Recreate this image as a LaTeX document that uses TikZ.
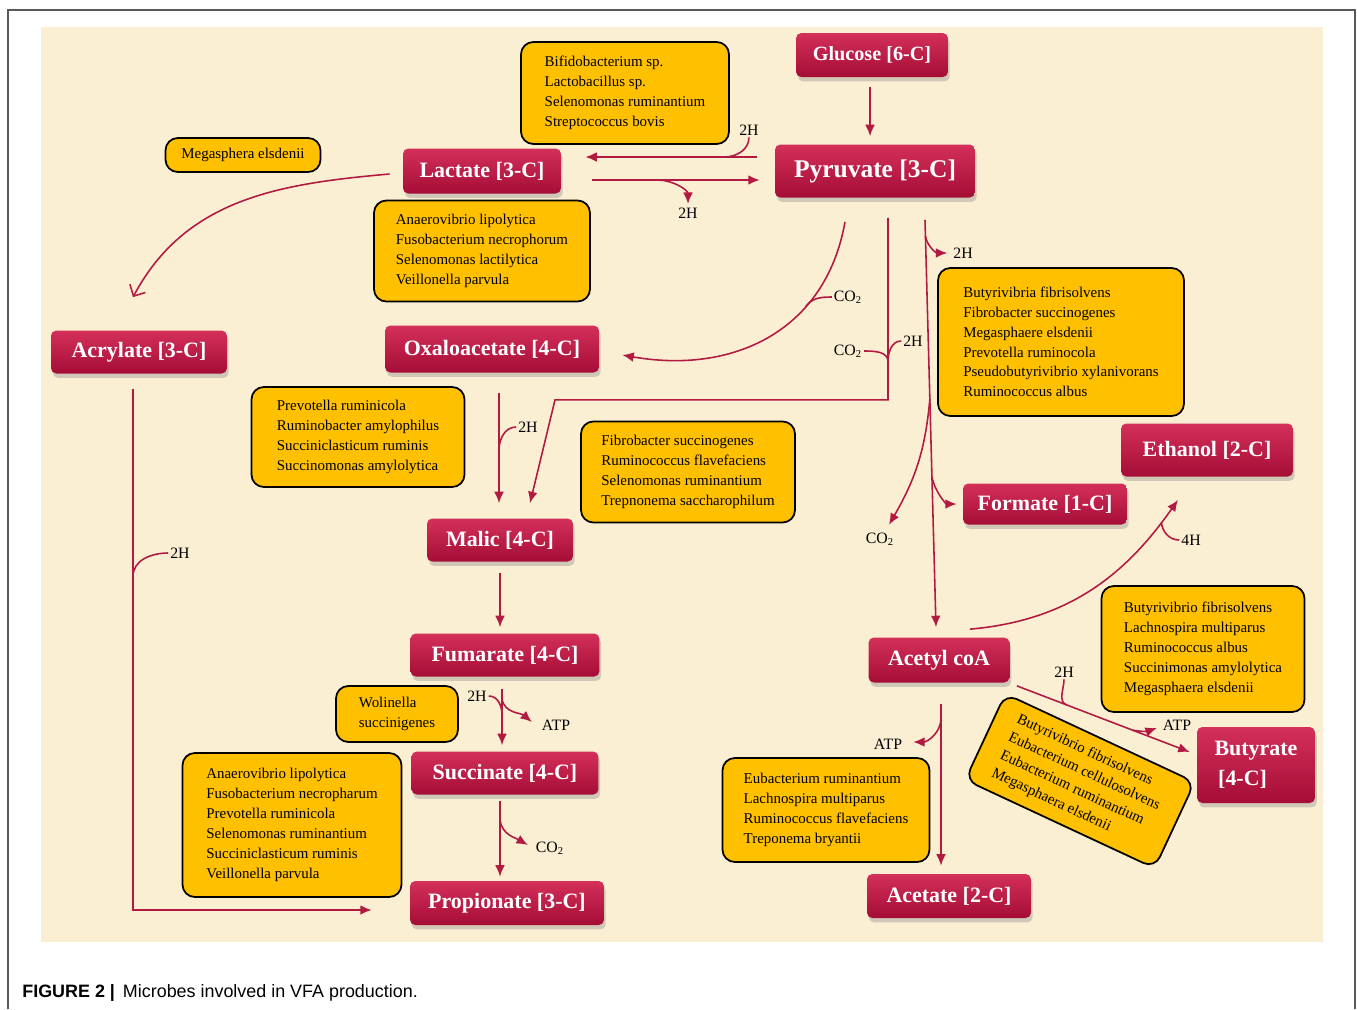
\documentclass[tikz,border=0pt]{standalone}
\usepackage{fontspec}
\setmainfont{Liberation Serif}
\newfontfamily\capfont{Liberation Sans}
\usetikzlibrary{arrows.meta}
\usetikzlibrary{calc}
\usetikzlibrary{shadows}

\definecolor{parchment}{HTML}{FBEFD3}
\definecolor{wine}{HTML}{B31A42}
\definecolor{winetop}{HTML}{D3305A}
\definecolor{winebot}{HTML}{A50D36}
\definecolor{amber}{HTML}{FFC000}

\begin{document}
\begin{tikzpicture}[x=0.02cm, y=0.02cm]
\tikzset{metab/.style = {rounded corners=3pt, top color=winetop, bottom color=winebot, text=white, inner sep=0pt,
  font=\bfseries\fontsize{12.5}{15}\selectfont, drop shadow={opacity=.35, shadow xshift=1pt, shadow yshift=-2.5pt}}}
\tikzset{bugs/.style = {draw=black, line width=1pt, fill=amber, rounded corners=7pt, align=left, inner sep=0pt,
  font=\fontsize{8.5}{11.3}\selectfont}}
\tikzset{side/.style = {draw=wine, line width=.9pt}}
\tikzset{flow/.style = {side, -{Latex[length=6.5pt,width=5.5pt]}}}
\tikzset{tag/.style = {inner sep=1pt, font=\fontsize{9}{10}\selectfont}}

\useasboundingbox (0,0) rectangle (1357,-1009);
\fill[white] (0,0) rectangle (1357,-1009);
\fill[parchment] (41,-27) rectangle (1323,-942);
\draw[gray!70!black, line width=.8pt] (8,-1009) -- (8,-10) -- (1355,-10) -- (1355,-1009);

% metabolites
\node[metab, minimum width=3.04cm, minimum height=.88cm, font=\bfseries\fontsize{11.5}{14}\selectfont] (glucose) at (872,-55) {Glucose [6-C]};
\node[metab, minimum width=4cm, minimum height=1.06cm, font=\bfseries\fontsize{14.5}{17}\selectfont] (pyruvate) at (875,-171) {Pyruvate [3-C]};
\node[metab, minimum width=3.16cm, minimum height=.9cm] (lactate) at (482,-171) {Lactate [3-C]};
\node[metab, minimum width=3.52cm, minimum height=.86cm] (acrylate) at (139,-352) {Acrylate [3-C]};
\node[metab, minimum width=4.28cm, minimum height=.94cm] (oxalo) at (492,-349) {Oxaloacetate [4-C]};
\node[metab, minimum width=2.92cm, minimum height=.86cm] (malic) at (500,-540) {Malic [4-C]};
\node[metab, minimum width=3.78cm, minimum height=.86cm] (fumarate) at (505,-655) {Fumarate [4-C]};
\node[metab, minimum width=3.74cm, minimum height=.86cm] (succinate) at (505,-773) {Succinate [4-C]};
\node[metab, minimum width=3.88cm, minimum height=.88cm] (propionate) at (507,-903) {Propionate [3-C]};
\node[metab, minimum width=3.44cm, minimum height=1.06cm] (ethanol) at (1207,-450) {Ethanol [2-C]};
\node[metab, minimum width=3.28cm, minimum height=.82cm] (formate) at (1045,-504) {Formate [1-C]};
\node[metab, minimum width=2.82cm, minimum height=.9cm] (acetyl) at (939,-660) {Acetyl coA};
\node[metab, minimum width=3.28cm, minimum height=.88cm] (acetate) at (949,-896) {Acetate [2-C]};
\node[metab, minimum width=2.36cm, minimum height=1.52cm, align=left, font=\bfseries\fontsize{12.5}{17}\selectfont] (butyrate) at (1256,-765) {Butyrate\\ \,[4-C]};

% microbes
\node[bugs, minimum width=4.16cm, minimum height=2.04cm] (bifido) at (625,-93) {Bifidobacterium sp.\\Lactobacillus sp.\\Selenomonas ruminantium\\Streptococcus bovis};
\node[bugs, minimum width=3.1cm, minimum height=.68cm] (megas) at (243,-155) {Megasphera elsdenii};
\node[bugs, minimum width=4.32cm, minimum height=2.02cm] (lactbugs) at (482,-251) {Anaerovibrio lipolytica\\Fusobacterium necrophorum\\Selenomonas lactilytica\\Veillonella parvula};
\node[bugs, minimum width=4.92cm, minimum height=2.96cm] (pyrbugs) at (1061,-342) {Butyrivibria fibrisolvens\\Fibrobacter succinogenes\\Megasphaere elsdenii\\Prevotella ruminocola\\Pseudobutyrivibrio xylanivorans\\Ruminococcus albus};
\node[bugs, minimum width=4.26cm, minimum height=2cm] (oxabugs) at (358,-437) {Prevotella ruminicola\\Ruminobacter amylophilus\\Succiniclasticum ruminis\\Succinomonas amylolytica};
\node[bugs, minimum width=4.28cm, minimum height=2.02cm] (malbugs) at (688,-472) {Fibrobacter succinogenes\\Ruminococcus flavefaciens\\Selenomonas ruminantium\\Trepnonema saccharophilum};
\node[bugs, minimum width=2.44cm, minimum height=1.12cm] (wolin) at (397,-714) {Wolinella\\succinigenes};
\node[bugs, minimum width=4.38cm, minimum height=2.88cm] (propbugs) at (292,-825) {Anaerovibrio lipolytica\\Fusobacterium necropharum\\Prevotella ruminicola\\Selenomonas ruminantium\\Succiniclasticum ruminis\\Veillonella parvula};
\node[bugs, minimum width=4.06cm, minimum height=2.52cm] (ethbugs) at (1203,-649) {Butyrivibrio fibrisolvens\\Lachnospira multiparus\\Ruminococcus albus\\Succinimonas amylolytica\\Megasphaera elsdenii};
\node[bugs, minimum width=4.14cm, minimum height=2.08cm] (acebugs) at (826,-810) {Eubacterium ruminantium\\Lachnospira multiparus\\Ruminococcus flavefaciens\\Treponema bryantii};
\node[bugs, rotate=-25, minimum width=4.18cm, minimum height=1.9cm] (butbugs) at (1080,-781) {Butyrivibrio fibrisolvens\\Eubacterium cellulosolvens\\Eubacterium ruminantium\\Megasphaera elsdenii};

% side products
\node[tag] (h2a) at (749,-130) {2H};
\node[tag] (h2b) at (688,-213) {2H};
\node[tag] (h2c) at (180,-553) {2H};
\node[tag] (co2a) at (848,-297) {CO\textsubscript{2}};
\node[tag] (co2b) at (848,-351) {CO\textsubscript{2}};
\node[tag] (h2d) at (913,-341) {2H};
\node[tag] (h2e) at (528,-427) {2H};
\node[tag] (h2f) at (963,-253) {2H};
\node[tag] (co2c) at (880,-539) {CO\textsubscript{2}};
\node[tag] (h4) at (1191,-540) {4H};
\node[tag] (h2g) at (1064,-672) {2H};
\node[tag] (atpa) at (1177,-725) {ATP};
\node[tag] (atpb) at (888,-744) {ATP};
\node[tag] (h2h) at (477,-696) {2H};
\node[tag] (atpc) at (556,-725) {ATP};
\node[tag] (co2d) at (550,-848) {CO\textsubscript{2}};

\draw[flow] ($(glucose.south)+(-2,-10)$) -- ($(pyruvate.north)+(-5,8)$);

\draw[flow] ($(pyruvate.west)+(-18,14)$) -- coordinate[pos=.19] (j1) ($(lactate.east)+(24,14)$);
\draw[side] (h2a.south) to[out=-90,in=0] (j1);
\draw[flow] ($(lactate.east)+(31,-9)$) -- coordinate[pos=.39] (j2) ($(pyruvate.west)+(-15,-9)$);
\draw[flow, shorten >=1pt] (j2) to[out=0,in=90] (h2b.north);

\draw[side, -{Straight Barb[length=5pt,width=10pt]}] ($(lactate.west)+(-13,-3)$) to[out=185,in=62] ($(acrylate.north)+(-6,33)$);

\draw[flow] ($(acrylate.south)+(-6,-15)$) |- coordinate[pos=.18] (j3) ($(propionate.west)+(-38,-7)$);
\draw[side] (h2c.west) to[out=180,in=90] (j3);

\draw[flow] ($(pyruvate.south)+(-30,-24)$) to[out=-100,in=-10,looseness=1.1] coordinate[pos=.32] (j4) ($(oxalo.east)+(23,-6)$);
\draw[side] (co2a.west) to[out=180,in=55] (j4);

\draw[flow] ($(pyruvate.south)+(13,-20)$) -- coordinate[pos=.79] (j5) ++(0,-182) -- ++(-333,0) -- ($(malic.north)+(30,15)$);
\draw[side] (co2b.east) to[out=0,in=90] (j5);
\draw[side] (h2d.west) to[out=180,in=90] (j5);

\draw[flow] ($(oxalo.south)+(7,-20)$) -- coordinate[pos=.52] (j6) ($(malic.north)+(-1,15)$);
\draw[side] (h2e.west) to[out=180,in=90] (j6);

\draw[flow] ($(pyruvate.south)+(50,-22)$) -- coordinate[pos=.04] (j7) coordinate[pos=.44] (j8) coordinate[pos=.63] (j9) ($(acetyl.north)+(-3,10)$);
\draw[flow] (j7) to[out=-80,in=180] ($(h2f.west)+(-4,0)$);
\draw[flow] (j8) to[out=-95,in=60] ($(co2c.north)+(9,6)$);
\draw[flow, shorten >=.12cm] (j9) to[out=-80,in=180] (formate.west);

\draw[flow] ($(acetyl.north east)+(-40,8)$) to[out=5,in=235] coordinate[pos=.9] (j10) ($(ethanol.south)+(-29,-23)$);
\draw[side] (h4.west) to[out=180,in=-85] (j10);

\draw[flow] ($(acetyl.south east)+(7,-3)$) -- coordinate[pos=.29] (j11) coordinate[pos=.67] (j12) ($(butyrate.west)+(-7,13)$);
\draw[side] (h2g.south) to[out=-90,in=160] (j11);
\draw[flow] (j12) to[out=-10,in=200] ($(atpa.west)+(-4,-3)$);

\draw[flow] ($(acetyl.south)+(2,-21)$) -- coordinate[pos=.09] (j13) ($(acetate.north)+(-8,8)$);
\draw[flow] (j13) to[out=-90,in=0] ($(atpb.east)+(9,2)$);

\draw[flow] ($(malic.south)+(0,-11)$) -- ($(fumarate.north)+(-5,6)$);

\draw[flow] ($(fumarate.south)+(-3,-12)$) -- coordinate[pos=.18] (j14) coordinate[pos=.46] (j15) ($(succinate.north)+(-3,6)$);
\draw[side] (h2h.east) to[out=0,in=90] (j15);
\draw[flow] (j14) to[out=-80,in=140] ($(atpc.west)+(-8,3)$);

\draw[flow] ($(succinate.south)+(-5,-6)$) -- coordinate[pos=.26] (j16) ($(propionate.north)+(-7,4)$);
\draw[flow] (j16) to[out=-80,in=150] ($(co2d.west)+(-6,3)$);

\node[anchor=base west, inner sep=0pt, font=\capfont\fontsize{10.2}{12}\selectfont] (caption) at (22,-997) {\textbf{FIGURE 2 |}\, Microbes involved in VFA production.};
\end{tikzpicture}
\end{document}
